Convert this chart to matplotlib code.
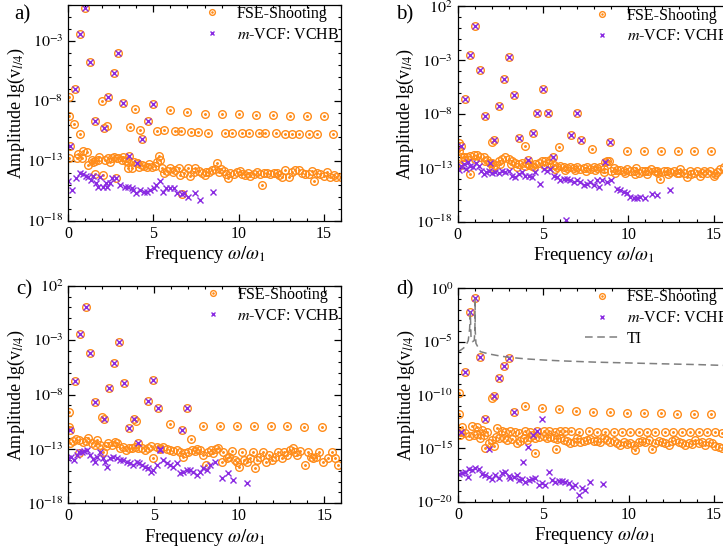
import numpy as np
import matplotlib
matplotlib.use("Agg")
import matplotlib.pyplot as plt
from matplotlib.ticker import FixedLocator, MultipleLocator, FuncFormatter

plt.rcParams['font.family'] = ['Liberation Serif', 'DejaVu Serif']
plt.rcParams['mathtext.fontset'] = 'stix'
plt.rcParams['font.size'] = 11.5

ORANGE = '#ff8c1a'
PURPLE = '#8a2be2'
GREY = '#7f7f7f'

# --- data: (omega/omega_1, log10 amplitude) ---
# "both" = points where FSE-Shooting and m-VCF coincide

# panel a
a_both = [(0.10, -11.8), (0.41, -7.06), (0.68, -2.44), (1.02, -0.28), (1.27, -4.78), (1.58, -9.67),
          (2.11, -10.25), (2.37, -7.72), (2.68, -5.67), (2.95, -4.06), (3.25, -8.17), (3.56, -12.58),
          (4.07, -13.17), (4.36, -11.17), (4.67, -9.67), (4.97, -8.28)]
a_fse = [(0.04, -7.67), (0.06, -9.25), (0.33, -9.9), (0.70, -10.8), (1.98, -8.03), (2.29, -10.1),
         (3.66, -10.2), (3.93, -8.72), (4.22, -10.4), (2.80, -14.4), (6.70, -15.8), (1.56, -14.1),
         (6, -8.78), (7, -8.97), (8, -9.08), (9, -9.11), (10, -9.14), (11, -9.17), (12, -9.19),
         (13, -9.25), (14, -9.25), (15, -9.25),
         (5.24, -10.53), (5.65, -10.44), (6.24, -10.53), (6.63, -10.53), (7.2, -10.64), (7.6, -10.64),
         (8.2, -10.67), (9.2, -10.69), (9.63, -10.69), (10.2, -10.72), (10.62, -10.72), (11.17, -10.72),
         (11.56, -10.72), (12.17, -10.72), (12.71, -10.75), (13.14, -10.75), (13.55, -10.75),
         (14.14, -10.75), (14.57, -10.75), (15.55, -10.78)]
a_fse_band = [(0.06, -12.81), (0.51, -12.81), (0.61, -12.47), (0.8, -12.75), (0.88, -12.19), (1.1, -12.31),
              (1.19, -13.36), (1.39, -12.94), (1.49, -13.08), (1.59, -13.03), (1.78, -12.94), (1.82, -12.67),
              (2.07, -14.19), (2.17, -12.94), (2.37, -12.81), (2.47, -13.08), (2.56, -12.81), (2.72, -12.67),
              (2.86, -12.81), (2.95, -12.75), (3.19, -12.94), (3.25, -12.67), (3.39, -13.03), (3.5, -13.58),
              (3.54, -13.14), (3.74, -13.58), (3.84, -13.14), (4.03, -13.22), (4.13, -13.5), (4.32, -13.36),
              (4.48, -13.42), (4.62, -13.5), (4.76, -13.31), (4.91, -13.5), (5.07, -13.42), (5.21, -13.14),
              (5.34, -12.58), (5.4, -12.94), (5.5, -13.58), (5.62, -14.06), (5.79, -13.86), (5.99, -13.58),
              (6.18, -13.97), (6.28, -13.78), (6.48, -13.64), (6.58, -14.19), (6.77, -14.06), (7.03, -13.64),
              (7.16, -14.25), (7.36, -13.97), (7.46, -13.64), (7.65, -13.86), (7.85, -14.06), (8.0, -14.19),
              (8.08, -13.92), (8.24, -13.92), (8.43, -13.78), (8.59, -13.69), (8.73, -13.22), (8.83, -13.97),
              (8.98, -13.69), (9.12, -13.86), (9.26, -14.14), (9.37, -14.42), (9.51, -14.06), (9.71, -14.14),
              (9.9, -13.97), (10.1, -13.86), (10.2, -14.14), (10.39, -14.19), (10.55, -14.06), (10.68, -14.25),
              (10.88, -14.14), (11.08, -13.97), (11.27, -14.14), (11.37, -15.03), (11.47, -14.06),
              (11.66, -14.06), (11.86, -14.14), (12.05, -14.06), (12.25, -14.06), (12.35, -14.19),
              (12.54, -14.33), (12.74, -13.78), (12.97, -14.33), (13.13, -13.92), (13.33, -13.81),
              (13.52, -13.78), (13.72, -14.06), (13.91, -14.14), (14.11, -14.14), (14.27, -13.86),
              (14.4, -14.69), (14.6, -14.06), (14.79, -14.14), (14.99, -14.25), (15.19, -13.92),
              (15.38, -14.33), (15.58, -14.19), (15.68, -14.33), (15.97, -14.33)]
a_vcf = [(0.0, -14.67), (0.25, -15.44), (0.49, -14.42), (0.72, -14.0), (0.88, -14.08), (1.04, -14.28),
         (1.17, -14.33), (1.37, -14.61), (1.47, -14.28), (1.66, -14.83), (1.78, -15.17), (1.86, -14.33),
         (2.05, -15.17), (2.21, -14.83), (2.29, -15.17), (2.44, -14.83), (2.6, -14.47), (2.84, -14.47),
         (3.07, -15.03), (3.32, -15.17), (3.52, -15.17), (3.72, -15.31), (3.81, -15.44), (4.01, -15.67),
         (4.2, -15.44), (4.44, -15.58), (4.6, -15.58), (4.79, -15.44), (5.03, -15.31), (5.18, -15.03),
         (5.38, -14.67), (5.57, -15.58), (5.77, -15.31), (5.97, -15.31), (6.2, -15.31), (6.4, -15.72),
         (6.65, -15.81), (6.79, -15.67), (7.04, -16.0), (7.43, -15.72), (7.73, -16.28), (8.51, -15.58)]

# panel b
b_both = [(1.04, 0.19), (0.72, -2.51), (1.29, -3.86), (3.01, -2.66), (2.73, -4.72), (0.45, -6.62),
          (3.32, -6.25), (4.98, -5.64), (1.6, -8.21), (2.4, -7.29), (4.67, -7.91), (5.27, -7.94),
          (6.97, -7.91), (6.64, -9.99), (7.25, -10.42), (3.57, -10.18), (4.43, -9.78), (2.13, -10.42),
          (8.95, -10.58), (0.18, -11.0), (5.59, -12.0), (4.14, -12.26), (8.65, -12.42), (1.91, -12.57)]
b_fse = [(0.06, -10.73), (0.06, -11.4), (2.01, -10.64), (3.96, -11.0), (5.96, -11.1), (7.87, -11.28),
         (9.92, -11.4), (10.9, -11.4), (11.91, -11.44), (12.89, -11.44), (13.87, -11.44), (14.84, -11.44),
         (0.74, -13.61), (0.06, -12.8)]
b_fse_band = [(0.18, -12.02), (0.35, -12.02), (0.55, -11.96), (0.74, -11.9), (0.94, -11.77), (1.13, -11.77),
              (1.33, -11.96), (1.52, -12.02), (1.72, -12.26), (2.01, -12.57), (2.21, -12.69), (2.4, -12.39),
              (2.6, -12.2), (2.79, -11.96), (2.99, -12.17), (3.18, -12.33), (3.38, -12.57), (3.57, -12.63),
              (3.77, -12.54), (3.96, -12.79), (4.16, -12.69), (4.36, -12.79), (4.55, -12.63), (4.75, -12.51),
              (4.94, -12.39), (5.14, -12.33), (5.33, -12.57), (5.43, -12.26), (5.63, -12.69), (5.82, -12.94),
              (6.02, -12.85), (6.21, -12.94), (6.41, -13.03), (6.6, -12.88), (6.8, -13.03), (6.99, -12.94),
              (7.19, -13.09), (7.38, -13.0), (7.58, -12.94), (7.77, -13.09), (7.97, -12.94), (8.16, -13.03),
              (8.36, -12.94), (8.55, -13.09), (8.75, -12.39), (8.85, -12.33), (9.0, -13.25), (9.14, -13.03),
              (9.34, -13.18), (9.53, -13.18), (9.73, -13.25), (9.92, -13.09), (10.12, -13.31), (10.31, -13.25),
              (10.45, -13.03), (10.61, -13.49), (10.8, -13.25), (11.0, -13.31), (11.15, -13.25),
              (11.35, -13.09), (11.54, -13.25), (11.74, -13.49), (11.88, -14.01), (12.07, -13.31),
              (12.27, -13.25), (12.46, -13.4), (12.66, -13.25), (12.85, -13.49), (13.05, -13.09),
              (13.24, -13.49), (13.44, -13.86), (13.63, -13.31), (13.83, -13.49), (14.02, -13.25),
              (14.22, -13.71), (14.41, -13.31), (14.61, -13.49), (14.8, -13.31), (15.0, -13.8), (15.2, -13.4),
              (15.39, -13.09), (15.59, -12.94),
              (0.45, -12.3), (1.0, -12.2), (1.6, -12.4), (2.1, -12.9), (2.5, -12.6), (3.1, -12.6), (3.5, -12.9),
              (4.05, -12.5), (4.5, -12.95), (5.05, -12.7), (5.7, -13.1), (6.3, -13.2), (6.9, -13.2),
              (7.5, -13.3), (8.05, -13.2), (8.6, -13.35), (9.2, -13.45), (9.8, -13.5), (10.4, -13.55),
              (11.1, -13.6), (11.7, -13.3), (12.35, -13.55), (13.0, -13.45), (13.7, -13.6), (14.3, -13.45),
              (15.1, -13.55), (15.7, -13.3)]
b_vcf = [(0.06, -13.18), (0.18, -12.79), (0.35, -12.63), (0.49, -13.09), (0.61, -12.48), (0.74, -12.85),
         (0.9, -12.94), (1.07, -12.57), (1.23, -12.79), (1.39, -13.25), (1.52, -13.55), (1.66, -13.4),
         (1.82, -13.31), (2.01, -13.49), (2.21, -13.4), (2.4, -13.49), (2.6, -13.25), (2.79, -13.4),
         (2.99, -13.25), (3.18, -13.71), (3.38, -13.86), (3.57, -13.55), (3.77, -13.4), (3.96, -13.71),
         (4.16, -13.71), (4.36, -13.86), (4.55, -13.4), (4.84, -14.47), (5.04, -13.09), (5.23, -13.25),
         (5.43, -13.09), (5.63, -13.8), (5.82, -13.86), (6.02, -14.17), (6.21, -14.01), (6.41, -14.01),
         (6.6, -14.17), (6.8, -14.32), (6.99, -14.17), (7.19, -14.32), (7.38, -14.63), (7.58, -14.47),
         (7.77, -14.32), (7.97, -14.63), (8.16, -14.17), (8.3, -14.78), (8.46, -14.17), (8.75, -14.32),
         (9.0, -14.17), (9.34, -14.93), (9.53, -15.02), (9.73, -15.24), (9.92, -15.33), (10.12, -15.7),
         (10.31, -15.76), (10.51, -15.76), (10.7, -15.7), (11.0, -15.76), (11.39, -15.39), (11.68, -15.55),
         (12.46, -15.02), (6.35, -17.85)]

# panel c
c_both = [(1.02, 0.01), (0.68, -2.47), (2.95, -3.21), (1.27, -4.22), (2.68, -5.07), (0.41, -6.76),
          (4.94, -6.67), (3.26, -6.94), (2.36, -7.43), (1.58, -8.72), (4.67, -8.57), (5.23, -9.27),
          (6.93, -9.27), (2.11, -10.25), (3.85, -10.25), (3.55, -11.11), (6.64, -11.26), (0.1, -11.26),
          (4.1, -12.49), (5.37, -13.0)]
c_fse = [(0.04, -9.64), (0.04, -10.96), (1.99, -10.04), (3.95, -10.43), (5.96, -10.71), (7.21, -12.12),
         (7.87, -10.86), (8.89, -10.86), (9.88, -10.89), (10.88, -10.89), (11.88, -10.89), (12.83, -10.92),
         (13.81, -10.96), (14.84, -10.96), (0.64, -13.34)]
c_fse_band = [(0.1, -12.49), (0.29, -12.27), (0.45, -12.09), (0.64, -12.18), (0.84, -12.33), (1.04, -12.27),
              (1.17, -12.03), (1.37, -12.49), (1.56, -12.64), (1.7, -12.18), (1.86, -12.64), (2.05, -13.25),
              (2.21, -12.7), (2.34, -12.49), (2.54, -12.64), (2.73, -12.33), (2.83, -12.49), (3.03, -12.95),
              (3.22, -12.79), (3.38, -13.1), (3.57, -12.95), (3.71, -12.95), (3.91, -12.79), (4.1, -12.89),
              (4.3, -12.95), (4.49, -13.1), (4.69, -12.95), (4.82, -12.7), (4.98, -13.87), (5.18, -12.79),
              (5.37, -12.95), (5.57, -12.79), (5.76, -13.01), (5.96, -13.1), (6.15, -13.19), (6.35, -13.1),
              (6.54, -13.25), (6.7, -13.71), (6.84, -13.41), (7.03, -13.25), (7.23, -13.1), (7.42, -13.19),
              (7.56, -13.01), (7.71, -13.1), (7.91, -13.56), (8.07, -14.48), (8.2, -13.25), (8.34, -13.1),
              (8.5, -13.41), (8.65, -13.01), (8.79, -12.95), (8.98, -14.17), (9.08, -13.25), (9.28, -13.87),
              (9.43, -13.71), (9.57, -13.19), (9.77, -14.02), (9.9, -14.17), (10.02, -14.63), (10.16, -13.25),
              (10.29, -14.02), (10.45, -14.17), (10.64, -13.87), (10.8, -13.25), (10.94, -14.78),
              (11.07, -14.02), (11.23, -13.71), (11.43, -13.25), (11.58, -14.17), (11.78, -13.56),
              (11.91, -14.02), (12.11, -13.71), (12.3, -13.25), (12.5, -13.8), (12.64, -13.25),
              (12.83, -13.56), (12.99, -13.1), (13.14, -12.95), (13.28, -13.25), (13.42, -13.56),
              (13.57, -13.19), (13.87, -14.48), (14.06, -13.25), (14.2, -13.71), (14.36, -13.87),
              (14.51, -13.71), (14.71, -13.25), (14.94, -14.17), (15.23, -13.87), (15.43, -13.25),
              (15.63, -13.87), (15.82, -14.48)]
c_vcf = [(0.0, -13.8), (0.14, -13.71), (0.33, -14.02), (0.49, -13.56), (0.64, -13.25), (0.78, -13.31),
         (0.92, -13.19), (1.07, -13.1), (1.27, -13.56), (1.43, -13.93), (1.56, -14.17), (1.7, -13.71),
         (1.86, -13.25), (2.01, -13.8), (2.15, -14.17), (2.29, -14.63), (2.44, -13.8), (2.64, -13.71),
         (2.83, -13.87), (3.03, -14.02), (3.22, -14.02), (3.42, -14.17), (3.61, -14.32), (3.81, -14.48),
         (4.0, -14.23), (4.16, -14.32), (4.3, -14.48), (4.49, -14.63), (4.69, -14.78), (4.82, -15.09),
         (4.98, -14.94), (5.18, -14.48), (5.37, -13.1), (5.57, -14.02), (5.76, -14.32), (5.96, -14.48),
         (6.15, -14.63), (6.35, -14.32), (6.54, -15.24), (6.74, -15.09), (6.93, -14.94), (7.13, -14.94),
         (7.32, -15.09), (7.52, -15.4), (7.71, -15.09), (7.91, -14.78), (8.11, -14.94), (8.3, -14.48),
         (8.59, -14.17), (8.98, -15.7), (9.38, -15.24), (9.67, -15.86), (10.45, -16.16)]

# panel d
d_both = [(1.02, -0.94), (0.7, -2.25), (1.27, -6.41), (2.99, -6.56), (2.71, -7.25), (0.43, -7.81),
          (2.38, -8.44), (2.11, -10.13), (3.3, -11.63), (1.58, -12.25), (0.16, -13.44), (4.38, -13.75),
          (4.65, -13.34)]
d_fse = [(0.04, -9.84), (0.04, -11.81), (1.99, -10.31), (3.95, -11.0), (4.94, -11.25), (5.94, -11.34),
         (6.93, -11.47), (7.91, -11.56), (8.93, -11.63), (9.9, -11.66), (10.88, -11.69), (11.88, -11.72),
         (12.85, -11.75), (13.85, -11.75), (14.82, -11.78),
         (0.23, -12.97), (0.82, -12.88), (1.11, -12.97), (1.41, -13.28), (1.7, -13.44), (2.29, -13.06),
         (2.58, -13.38), (2.77, -13.44), (3.07, -13.38), (3.36, -13.44), (3.55, -13.59), (3.95, -13.38),
         (4.24, -13.44), (5.02, -13.38), (5.31, -13.38), (5.66, -13.44), (5.96, -13.38), (6.29, -13.38),
         (6.64, -13.34), (7.07, -13.44), (7.66, -13.38), (8.14, -13.44), (8.63, -13.44), (9.12, -13.44),
         (9.61, -13.44), (10.1, -13.44), (10.62, -13.44), (11.07, -13.44), (11.56, -13.44),
         (12.11, -13.44), (12.58, -13.44), (13.13, -13.44), (13.61, -13.44), (14.1, -13.44),
         (14.59, -13.44), (15.08, -13.44), (15.47, -13.59)]
d_fse_band = [(0.14, -13.75), (0.43, -13.59), (0.63, -13.81), (0.92, -13.75), (1.11, -13.69), (1.31, -14.0),
              (1.5, -13.75), (1.8, -14.53), (1.99, -14.22), (2.09, -14.75), (2.23, -13.91), (2.42, -14.06),
              (2.68, -14.0), (2.87, -14.22), (3.16, -14.13), (3.46, -14.53), (3.65, -14.31), (3.85, -14.06),
              (4.04, -14.22), (4.24, -13.91), (4.49, -14.06), (4.73, -13.91), (5.02, -13.84), (5.21, -14.06),
              (5.41, -13.91), (5.61, -14.06), (5.8, -14.16), (6.0, -14.0), (6.19, -14.22), (6.39, -14.31),
              (6.58, -14.53), (6.78, -14.44), (6.97, -14.06), (7.17, -14.38), (7.36, -14.28), (7.56, -14.22),
              (7.75, -14.13), (7.95, -14.31), (8.14, -14.28), (8.34, -14.44), (8.54, -14.06), (8.73, -14.22),
              (8.93, -14.38), (9.12, -14.31), (9.32, -14.53), (9.51, -14.69), (9.71, -14.38), (9.9, -14.63),
              (10.1, -14.53), (10.29, -14.69), (10.39, -15.16), (10.59, -14.38), (10.78, -14.31),
              (10.98, -14.38), (11.17, -14.22), (11.37, -15.06), (11.56, -14.53), (11.76, -14.31),
              (11.95, -14.38), (12.15, -14.53), (12.34, -14.69), (12.54, -14.31), (12.73, -14.22),
              (12.93, -14.38), (13.13, -14.53), (13.32, -14.69), (13.52, -14.53), (13.71, -14.63),
              (13.91, -14.22), (14.1, -14.53), (14.3, -14.38), (14.49, -14.69), (14.69, -14.38),
              (14.88, -14.53), (15.08, -14.75), (15.27, -14.84), (15.47, -15.0), (1.56, -15.0),
              (4.53, -15.47), (5.76, -15.06)]
d_vcf = [(0.04, -17.44), (0.23, -17.34), (0.43, -17.19), (0.59, -17.66), (0.63, -16.97), (0.82, -17.03),
         (1.02, -16.88), (1.21, -16.97), (1.41, -17.41), (1.6, -17.5), (1.8, -17.66), (1.99, -17.88),
         (2.19, -17.5), (2.38, -17.81), (2.58, -17.34), (2.77, -17.19), (2.97, -17.56), (3.07, -17.81),
         (3.26, -17.66), (3.46, -17.5), (3.55, -17.97), (3.75, -17.91), (3.95, -18.13), (4.14, -17.97),
         (4.34, -17.88), (4.53, -17.81), (4.73, -18.44), (4.92, -18.28), (5.12, -18.44), (5.31, -17.19),
         (5.51, -17.97), (5.66, -18.19), (5.9, -18.06), (6.09, -18.06), (6.29, -18.13), (6.48, -18.28),
         (6.68, -18.59), (6.88, -18.44), (7.07, -19.38), (7.27, -18.75), (7.46, -18.91), (7.75, -18.13),
         (8.48, -18.38), (1.8, -15.06), (3.8, -16.25), (4.1, -14.84), (4.94, -12.28)]
d_ti_w = [0, 0.2, 0.43, 0.6, 0.68, 0.72, 0.76, 0.85, 0.95, 0.99, 1.0, 1.01, 1.05, 1.31, 1.8, 2.3, 2.97,
          4.0, 5.0, 6.0, 8.0, 10.0, 12.0, 14.0, 16.0]
d_ti_lg = [-5.94, -5.75, -5.47, -4.9, -3.8, -2.25, -4.5, -5.0, -4.9, -4.0, -0.94, -4.0, -5.16, -5.94,
           -6.15, -6.3, -6.47, -6.62, -6.72, -6.8, -6.92, -7.0, -7.08, -7.15, -7.25]


def unzip(pts):
    w = np.array([p[0] for p in pts])
    lg = np.array([p[1] for p in pts])
    return w, 10.0 ** lg


def panel(ax, both, fse, vcf, ylo, yhi, ymajor, ti=None):
    fw, fa = unzip(both + fse)
    vw, va = unzip(both + vcf)
    h1, = ax.plot(fw, fa, ls='none', marker='o', ms=5.5, mfc='none', mec=ORANGE, mew=1.0)
    h2, = ax.plot(fw, fa, ls='none', marker='.', ms=2.2, color=ORANGE)
    hx, = ax.plot(vw, va, ls='none', marker='x', ms=4.2, mew=1.0, color=PURPLE)
    handles = [(h1, h2), hx]
    labels = ['FSE-Shooting', r'$m$-VCF: VCHB']
    if ti is not None:
        ht, = ax.plot(ti[0], 10.0 ** np.array(ti[1]), ls=(0, (5, 3)), color=GREY, lw=1.1)
        handles.append(ht)
        labels.append('TI')

    ax.set_yscale('log')
    ax.set_xlim(0, 16)
    ax.set_ylim(10.0 ** ylo, 10.0 ** yhi)
    ax.xaxis.set_major_locator(FixedLocator([0, 5, 10, 15]))
    ax.xaxis.set_minor_locator(MultipleLocator(1))
    ax.yaxis.set_major_locator(FixedLocator([10.0 ** k for k in ymajor]))
    ax.yaxis.set_minor_locator(FixedLocator([10.0 ** k for k in range(ylo, yhi + 1)]))
    ax.yaxis.set_major_formatter(FuncFormatter(lambda v, p: r'$10^{%d}$' % round(np.log10(v))))
    ax.yaxis.set_minor_formatter(FuncFormatter(lambda v, p: ''))
    ax.tick_params(which='both', direction='in', top=True, right=True, labelsize=11.5)
    ax.tick_params(which='major', length=5, width=0.9)
    ax.tick_params(which='minor', length=2.5, width=0.8)
    for s in ax.spines.values():
        s.set_linewidth(0.9)

    ax.set_xlabel(r'Frequency $\omega/\omega_1$', fontsize=13.5, labelpad=2)
    ax.set_ylabel(r'Amplitude lg(v$_{l/4}$)', fontsize=13)
    ax.yaxis.set_label_coords(-0.152, 0.5)

    ax.legend(handles, labels, loc='upper left', bbox_to_anchor=(0.464, 0.995), frameon=False,
              borderaxespad=0, borderpad=0, handlelength=2.2, handletextpad=0.45,
              labelspacing=0.3, markerscale=0.75, fontsize=11.5)


fig = plt.figure(figsize=(7.23, 5.49), dpi=100)
ax_a = fig.add_axes([0.0941, 0.598, 0.3776, 0.3934])
ax_b = fig.add_axes([0.633, 0.5962, 0.3776, 0.392])
ax_c = fig.add_axes([0.0945, 0.0832, 0.3776, 0.3964])
ax_d = fig.add_axes([0.6335, 0.0862, 0.3776, 0.3887])

panel(ax_a, a_both, a_fse + a_fse_band, a_vcf, -18, 0, [-18, -13, -8, -3])
panel(ax_b, b_both, b_fse + b_fse_band, b_vcf, -18, 2, [-18, -13, -8, -3, 2])
panel(ax_c, c_both, c_fse + c_fse_band, c_vcf, -18, 2, [-18, -13, -8, -3, 2])
panel(ax_d, d_both, d_fse + d_fse_band, d_vcf, -20, 0, [-20, -15, -10, -5, 0], ti=(d_ti_w, d_ti_lg))

for txt, x, y in [('a)', 0.02, 0.99), ('b)', 0.548, 0.99), ('c)', 0.022, 0.49), ('d)', 0.548, 0.49)]:
    fig.text(x, y, txt, fontsize=15, va='top', ha='left')

fig.savefig('out.png', dpi=100)
